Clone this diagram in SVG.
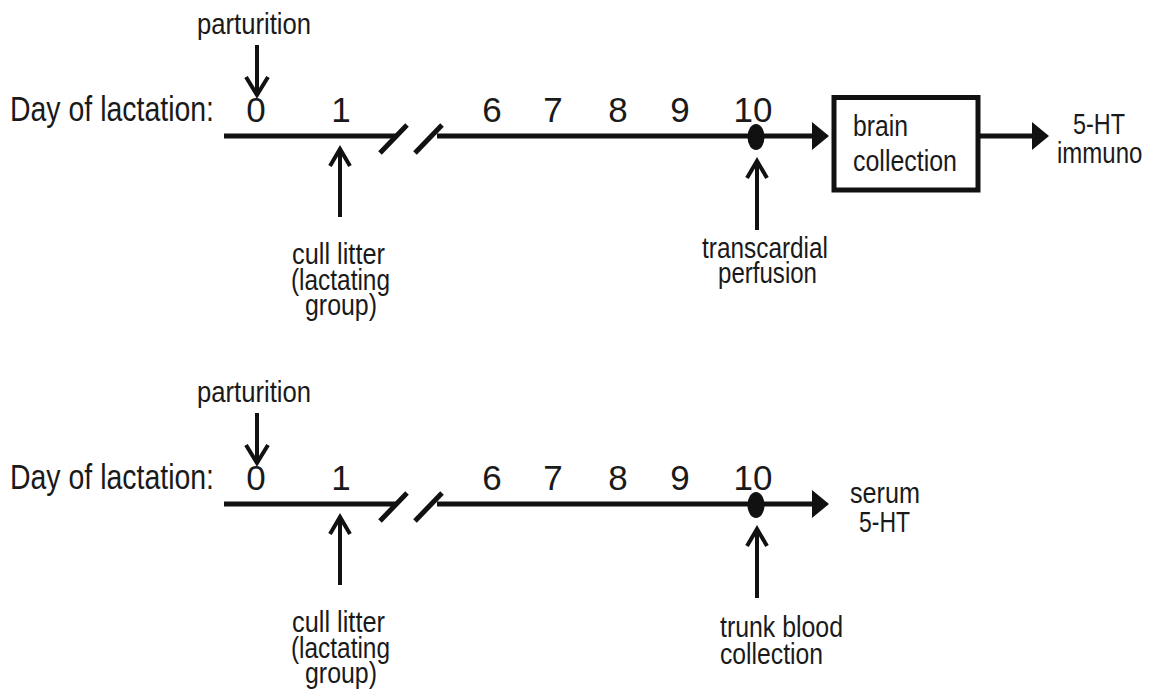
<svg xmlns="http://www.w3.org/2000/svg" width="1151" height="692" viewBox="0 0 1151 692">
  <style>
    .t { font-family: "Liberation Sans", Arial, sans-serif; fill: #1a1a1a; }
    .lbl { font-size: 30px; }
    .big { font-size: 35px; }
    .num { font-size: 35px; text-anchor: middle; }
    .axis { stroke: #111; stroke-width: 5; fill: none; }
    .shaft { stroke: #111; stroke-width: 4; fill: none; }
    .vee { stroke: #111; stroke-width: 4; fill: none; stroke-linejoin: miter; }
    .box { stroke: #111; stroke-width: 5; fill: #fff; }
    .dot { fill: #111; }
    .head { fill: #111; }
  </style>
  <defs>
    <!-- one timeline panel; the second panel reuses the axis, ticks and markers -->
    <g id="axis-base">
      <text class="t big" x="10" y="121" textLength="204" lengthAdjust="spacingAndGlyphs">Day of lactation:</text>
      <g class="t num">
        <text x="256" y="122">0</text>
        <text x="341" y="122">1</text>
        <text x="492" y="122">6</text>
        <text x="553" y="122">7</text>
        <text x="618" y="122">8</text>
        <text x="680" y="122">9</text>
        <text x="753" y="122">10</text>
      </g>
      <line class="axis" x1="224" y1="136" x2="396" y2="136"/>
      <line class="axis" x1="380" y1="153" x2="407" y2="125"/>
      <line class="axis" x1="415" y1="153" x2="442" y2="125"/>
      <line class="axis" x1="437" y1="136" x2="815" y2="136"/>
      <polygon class="head" points="812,122 829,136 812,150"/>
      <ellipse class="dot" cx="756" cy="137" rx="8.5" ry="13"/>
      <!-- parturition marker -->
      <text class="t lbl" x="197" y="34" textLength="114" lengthAdjust="spacingAndGlyphs">parturition</text>
      <line class="shaft" x1="257" y1="45" x2="257" y2="94"/>
      <polyline class="vee" points="246,77 257,95 268,77"/>
      <!-- cull litter marker -->
      <line class="shaft" x1="340" y1="217" x2="340" y2="150"/>
      <polyline class="vee" points="330,166 340,149 350,166"/>
      <text class="t lbl" x="292" y="264" textLength="93" lengthAdjust="spacingAndGlyphs">cull litter</text>
      <text class="t lbl" x="291" y="290" textLength="99" lengthAdjust="spacingAndGlyphs">(lactating</text>
      <text class="t lbl" x="305" y="315" textLength="72" lengthAdjust="spacingAndGlyphs">group)</text>
      <!-- day 10 marker -->
      <line class="shaft" x1="757" y1="230" x2="757" y2="162"/>
      <polyline class="vee" points="747,178 757,161 767,178"/>
    </g>
  </defs>

  <g id="panel-top">
    <use href="#axis-base"/>
    <text class="t lbl" x="702" y="258" textLength="126" lengthAdjust="spacingAndGlyphs">transcardial</text>
    <text class="t lbl" x="718" y="283" textLength="99" lengthAdjust="spacingAndGlyphs">perfusion</text>
  </g>

  <g id="node-brain">
    <rect class="box" x="834" y="97.5" width="144" height="92.5"/>
    <text class="t lbl" x="853" y="136" textLength="55" lengthAdjust="spacingAndGlyphs">brain</text>
    <text class="t lbl" x="853" y="171" textLength="104" lengthAdjust="spacingAndGlyphs">collection</text>
  </g>

  <g id="node-immuno">
    <text class="t lbl" x="1073" y="134" textLength="52" lengthAdjust="spacingAndGlyphs">5-HT</text>
    <!-- narrowed with a transform so the line stays inside the right edge -->
    <text class="t lbl" transform="translate(1057,163) scale(0.8,1)">immuno</text>
  </g>

  <g id="panel-bottom">
    <use href="#axis-base" y="368"/>
    <text class="t lbl" x="720" y="637" textLength="123" lengthAdjust="spacingAndGlyphs">trunk blood</text>
    <text class="t lbl" x="720" y="664" textLength="103" lengthAdjust="spacingAndGlyphs">collection</text>
  </g>

  <g id="node-serum">
    <text class="t lbl" x="850" y="503" textLength="70" lengthAdjust="spacingAndGlyphs">serum</text>
    <text class="t lbl" x="859" y="532" textLength="51" lengthAdjust="spacingAndGlyphs">5-HT</text>
  </g>

  <g id="connectors">
    <line class="axis" x1="980" y1="136" x2="1034" y2="136"/>
    <polygon class="head" points="1032,122 1049,136 1032,150"/>
  </g>
</svg>
